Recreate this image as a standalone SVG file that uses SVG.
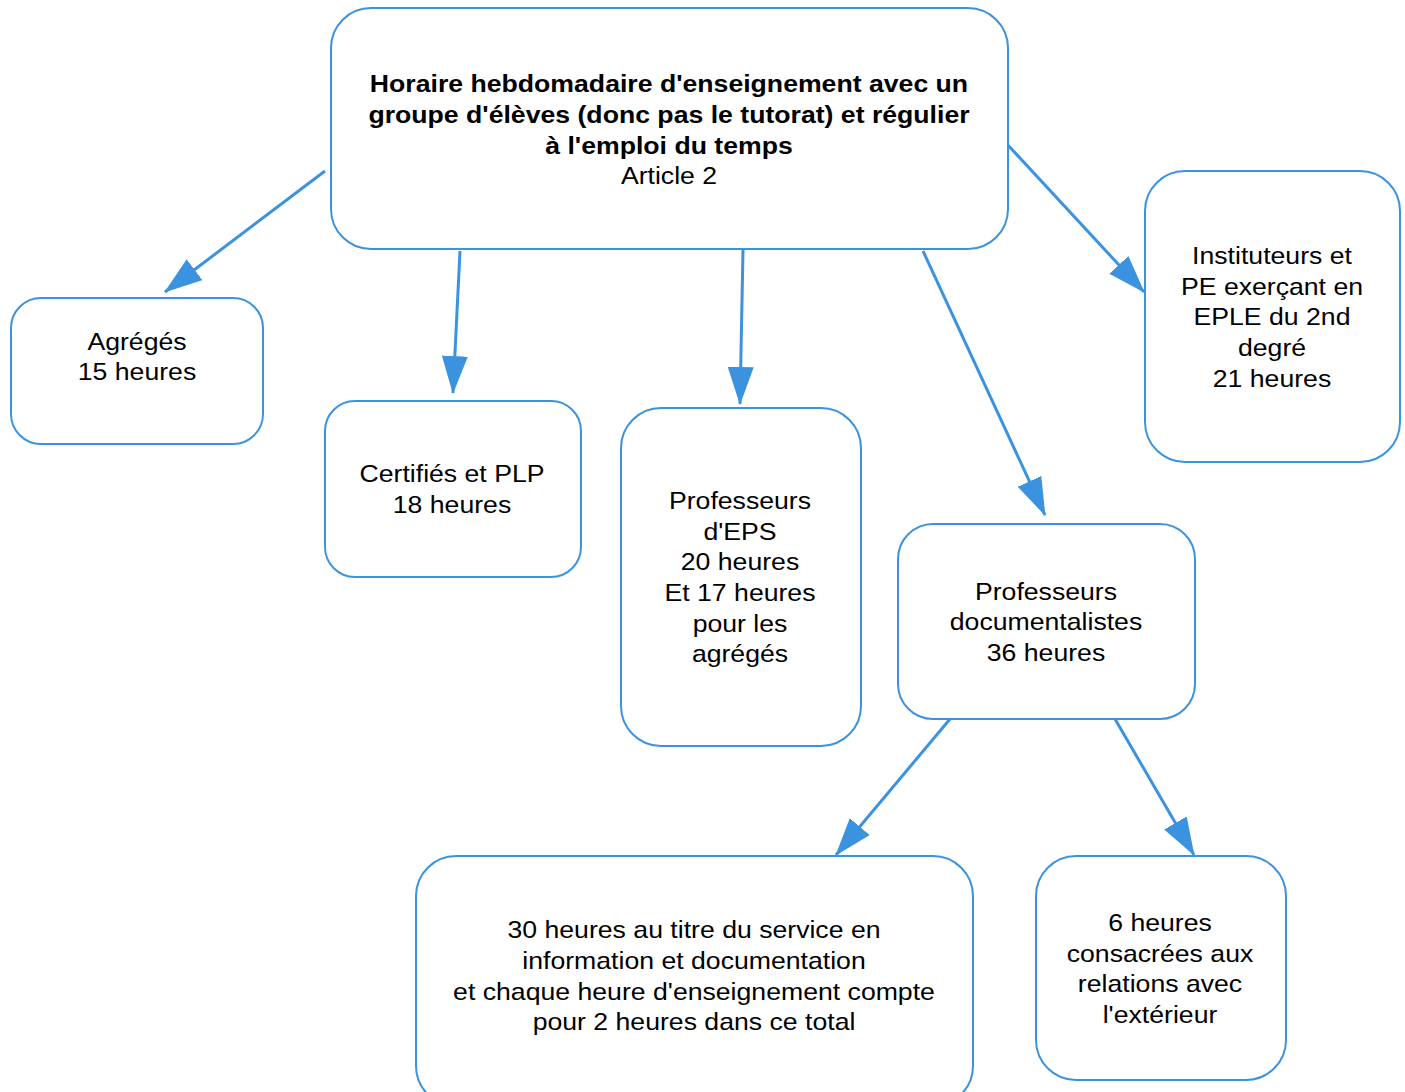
<svg xmlns="http://www.w3.org/2000/svg" width="1405" height="1092" viewBox="0 0 1405 1092">
<defs>
<marker id="ah" markerUnits="userSpaceOnUse" markerWidth="40" markerHeight="28" refX="37" refY="13" orient="auto">
<path d="M0,0 L38,13 L0,26 z" fill="#3b93e0"/>
</marker>
<style>
.box{fill:#fff;stroke:#3b93e0;stroke-width:2}
.t{font-family:"Liberation Sans",Arial,sans-serif;font-size:24px;fill:#000;text-anchor:middle}
.b{font-weight:bold}
.c{stroke:#3b93e0;stroke-width:3;fill:none;marker-end:url(#ah)}
</style>
</defs>
<rect width="1405" height="1092" fill="#fff"/>
<g id="connectors">
<line class="c" x1="325" y1="171" x2="165" y2="292"/>
<line class="c" x1="460" y1="251" x2="453" y2="393"/>
<line class="c" x1="743" y1="250" x2="740" y2="404"/>
<line class="c" x1="923" y1="251" x2="1045" y2="515"/>
<line class="c" x1="1006" y1="143" x2="1144" y2="292"/>
<line class="c" x1="950" y1="719" x2="836" y2="855"/>
<line class="c" x1="1115" y1="719" x2="1194" y2="855"/>
</g>
<g id="top">
<rect class="box" x="331" y="8" width="677" height="241" rx="40"/>
<g transform="translate(669 0) scale(1.11 1)">
<text class="t b" x="0" y="92">Horaire hebdomadaire d'enseignement avec un</text>
<text class="t b" x="0" y="123">groupe d'élèves (donc pas le tutorat) et régulier</text>
<text class="t b" x="0" y="154">à l'emploi du temps</text>
<text class="t" x="0" y="184">Article 2</text>
</g>
</g>
<g id="agreges">
<rect class="box" x="11" y="298" width="252" height="146" rx="30"/>
<g transform="translate(137 0) scale(1.11 1)">
<text class="t" x="0" y="350">Agrégés</text>
<text class="t" x="0" y="380">15 heures</text>
</g>
</g>
<g id="certifies">
<rect class="box" x="325" y="401" width="256" height="176" rx="30"/>
<g transform="translate(452 0) scale(1.11 1)">
<text class="t" x="0" y="482">Certifiés et PLP</text>
<text class="t" x="0" y="513">18 heures</text>
</g>
</g>
<g id="eps">
<rect class="box" x="621" y="408" width="240" height="338" rx="40"/>
<g transform="translate(740 0) scale(1.11 1)">
<text class="t" x="0" y="509">Professeurs</text>
<text class="t" x="0" y="540">d'EPS</text>
<text class="t" x="0" y="570">20 heures</text>
<text class="t" x="0" y="601">Et 17 heures</text>
<text class="t" x="0" y="632">pour les</text>
<text class="t" x="0" y="662">agrégés</text>
</g>
</g>
<g id="documentalistes">
<rect class="box" x="898" y="524" width="297" height="195" rx="35"/>
<g transform="translate(1046 0) scale(1.11 1)">
<text class="t" x="0" y="600">Professeurs</text>
<text class="t" x="0" y="630">documentalistes</text>
<text class="t" x="0" y="661">36 heures</text>
</g>
</g>
<g id="instituteurs">
<rect class="box" x="1145" y="171" width="255" height="291" rx="40"/>
<g transform="translate(1272 0) scale(1.11 1)">
<text class="t" x="0" y="264">Instituteurs et</text>
<text class="t" x="0" y="295">PE exerçant en</text>
<text class="t" x="0" y="325">EPLE du 2nd</text>
<text class="t" x="0" y="356">degré</text>
<text class="t" x="0" y="387">21 heures</text>
</g>
</g>
<g id="service">
<rect class="box" x="416" y="856" width="557" height="250" rx="40"/>
<g transform="translate(694 0) scale(1.11 1)">
<text class="t" x="0" y="938">30 heures au titre du service en</text>
<text class="t" x="0" y="969">information et documentation</text>
<text class="t" x="0" y="1000">et chaque heure d'enseignement compte</text>
<text class="t" x="0" y="1030">pour 2 heures dans ce total</text>
</g>
</g>
<g id="exterieur">
<rect class="box" x="1036" y="856" width="250" height="224" rx="40"/>
<g transform="translate(1160 0) scale(1.11 1)">
<text class="t" x="0" y="931">6 heures</text>
<text class="t" x="0" y="962">consacrées aux</text>
<text class="t" x="0" y="992">relations avec</text>
<text class="t" x="0" y="1023">l'extérieur</text>
</g>
</g>
</svg>
